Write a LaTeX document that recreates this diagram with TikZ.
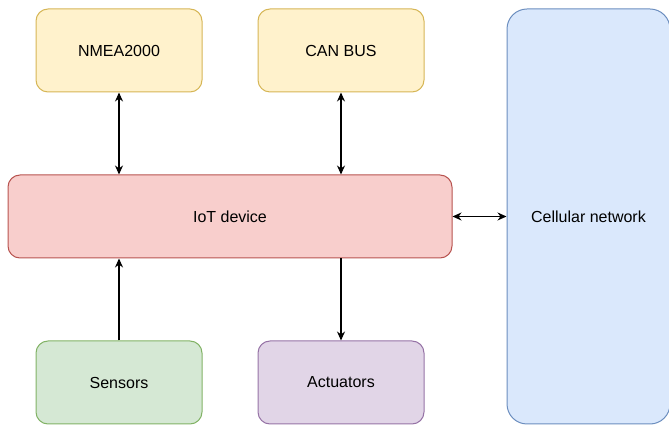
\documentclass[tikz,border=0pt]{standalone}
\usepackage{fontspec}
\setmainfont{Liberation Sans}
\usetikzlibrary{arrows.meta}
\definecolor{yfill}{HTML}{FFF2CC}\definecolor{ydraw}{HTML}{D6B656}
\definecolor{rfill}{HTML}{F8CECC}\definecolor{rdraw}{HTML}{B85450}
\definecolor{gfill}{HTML}{D5E8D4}\definecolor{gdraw}{HTML}{82B366}
\definecolor{pfill}{HTML}{E1D5E7}\definecolor{pdraw}{HTML}{9673A6}
\definecolor{bfill}{HTML}{DAE8FC}\definecolor{bdraw}{HTML}{6C8EBF}
\begin{document}
\begin{tikzpicture}[x=1pt,y=1pt,
  box/.style={draw, line width=1pt, rounded corners=12pt, minimum height=83pt, inner sep=0pt,
    font=\fontsize{16}{18}\selectfont, text=black},
  smallbox/.style={box, minimum width=166pt},
  conn/.style={line width=1.3pt, {Stealth[length=9pt,width=8pt]}-{Stealth[length=9pt,width=8pt]}},
  oneway/.style={line width=1.3pt, -{Stealth[length=9pt,width=8pt]}}]
\useasboundingbox (0,0) rectangle (669,428);
\node[smallbox, fill=yfill, draw=ydraw] (nmea) at (119,377.5) {NMEA2000};
\node[smallbox, fill=yfill, draw=ydraw] (can) at (341,377.5) {CAN BUS};
\node[box, fill=rfill, draw=rdraw, minimum width=444pt] (iot) at (230,211.5) {IoT device};
\node[smallbox, fill=gfill, draw=gdraw] (sens) at (119,45.5) {Sensors};
\node[smallbox, fill=pfill, draw=pdraw] (act) at (341,45.5) {Actuators};
\node[box, fill=bfill, draw=bdraw, rounded corners=20pt, minimum width=163pt, minimum height=415pt] (cell) at (588.5,211.5) {Cellular network};
\draw[conn] (nmea.south) -- (nmea.south |- iot.north);
\draw[conn] (can.south) -- (can.south |- iot.north);
\draw[oneway] (sens.north) -- (sens.north |- iot.south);
\draw[oneway] (act.north |- iot.south) -- (act.north);
\draw[conn] (iot.east) -- (iot.east -| cell.west);
\end{tikzpicture}
\end{document}
